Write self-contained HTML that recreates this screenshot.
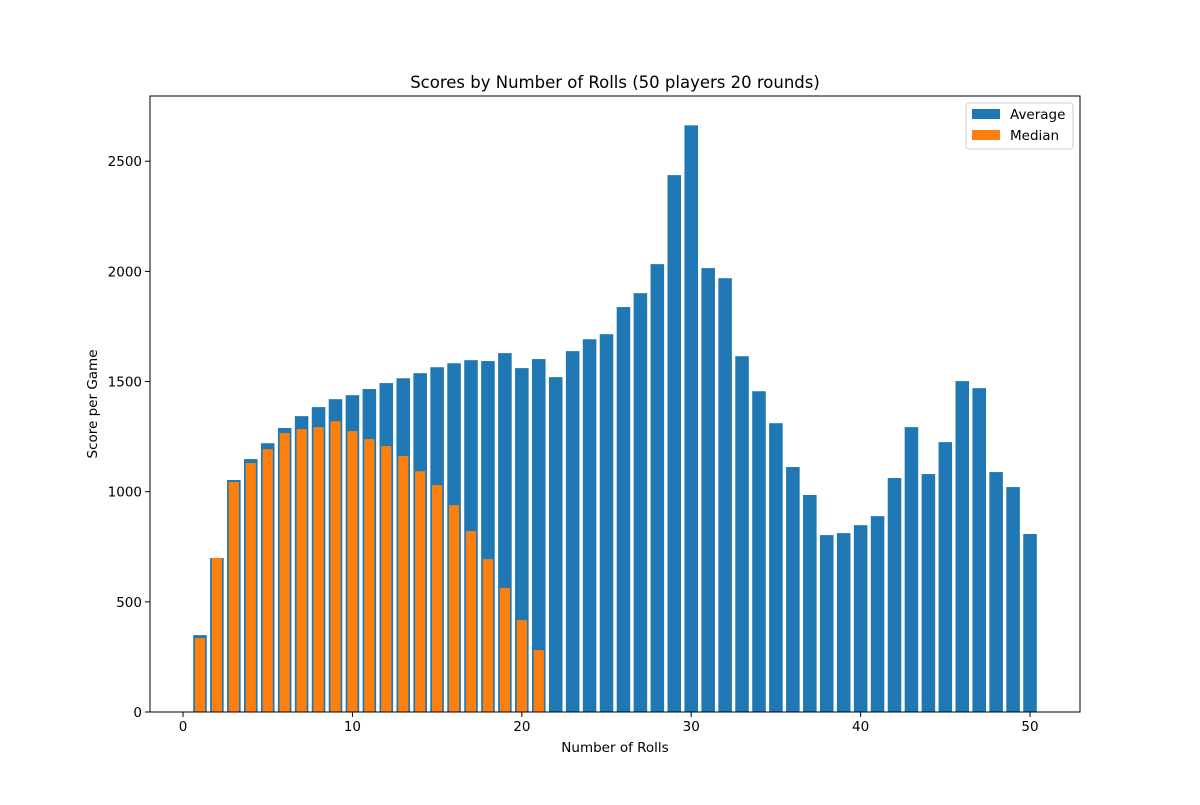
<!DOCTYPE html>
<html><head><meta charset="utf-8"><style>
body{margin:0;background:#fff}
svg{font-family:"DejaVu Sans","Liberation Sans",sans-serif}
</style></head><body>
<svg id="chart" width="1200" height="800" xmlns="http://www.w3.org/2000/svg">
<rect width="1200" height="800" fill="#fff"/>
<g id="bars"></g>
<rect x="150" y="96" width="930" height="616" fill="none" stroke="#000" stroke-width="1"/>
<g id="axes"></g>
<text x="615" y="88" text-anchor="middle" font-size="16.5">Scores by Number of Rolls  (50 players 20 rounds)</text>
<text x="615" y="752" text-anchor="middle" font-size="13.5">Number of Rolls</text>
<text transform="translate(97,404) rotate(-90)" text-anchor="middle" font-size="13.5">Score per Game</text>
<g>
<rect x="966" y="103" width="107" height="46" fill="#fff" stroke="#ccc" rx="3"/>
<rect x="972" y="109" width="28" height="10" fill="#1f77b4"/>
<text x="1010" y="119" font-size="13.5">Average</text>
<rect x="972" y="130" width="28" height="10" fill="#ff7f0e"/>
<text x="1010" y="140" font-size="13.5">Median</text>
</g>
</svg>
<script>
const average=[349,699,1053,1148,1220,1289,1343,1384,1420,1438,1466,1493,1515,1538,1565,1583,1597,1593,1629,1561,1602,1520,1638,1692,1715,1838,1901,2033,2437,2663,2015,1969,1615,1456,1311,1112,985,803,812,848,889,1062,1293,1080,1225,1502,1470,1089,1021,808];
const median=[336,699,1044,1130,1193,1266,1284,1293,1320,1275,1239,1207,1162,1093,1030,939,821,694,563,417,281];
const xTicks=[0,10,20,30,40,50];
const yTicks=[0,500,1000,1500,2000,2500];
const NS="http://www.w3.org/2000/svg";
const X0=150,X1=1080,Y0=712,Y1=96;
const xmin=-1.95,xmax=52.95,ymax=Math.max(...average)*1.05;
const xs=v=>X0+(v-xmin)/(xmax-xmin)*(X1-X0);
const ys=v=>Y0-v/ymax*(Y0-Y1);
const bars=document.getElementById('bars'),axes=document.getElementById('axes');
function mk(t,a,p){const e=document.createElementNS(NS,t);for(const k in a)e.setAttribute(k,a[k]);p.appendChild(e);return e;}
average.forEach((v,i)=>{const r=mk('rect',{x:xs(i+1-0.4),y:ys(v),width:xs(0.8)-xs(0),height:Y0-ys(v),fill:'#1f77b4'},bars);

});
median.forEach((v,i)=>{const r=mk('rect',{x:xs(i+1-0.3),y:ys(v),width:xs(0.6)-xs(0),height:Y0-ys(v),fill:'#ff7f0e'},bars);

});
xTicks.forEach(t=>{const x=xs(t);mk('line',{x1:x,x2:x,y1:Y0,y2:Y0+5,stroke:'#000'},axes);
const l=mk('text',{x:x,y:Y0+19,'text-anchor':'middle','font-size':'13.5'},axes);l.textContent=t;

});
yTicks.forEach(t=>{const y=ys(t);mk('line',{x1:X0-5,x2:X0,y1:y,y2:y,stroke:'#000'},axes);
const l=mk('text',{x:X0-8,y:y+5,'text-anchor':'end','font-size':'13.5'},axes);l.textContent=t;

});
</script>
</body></html>
